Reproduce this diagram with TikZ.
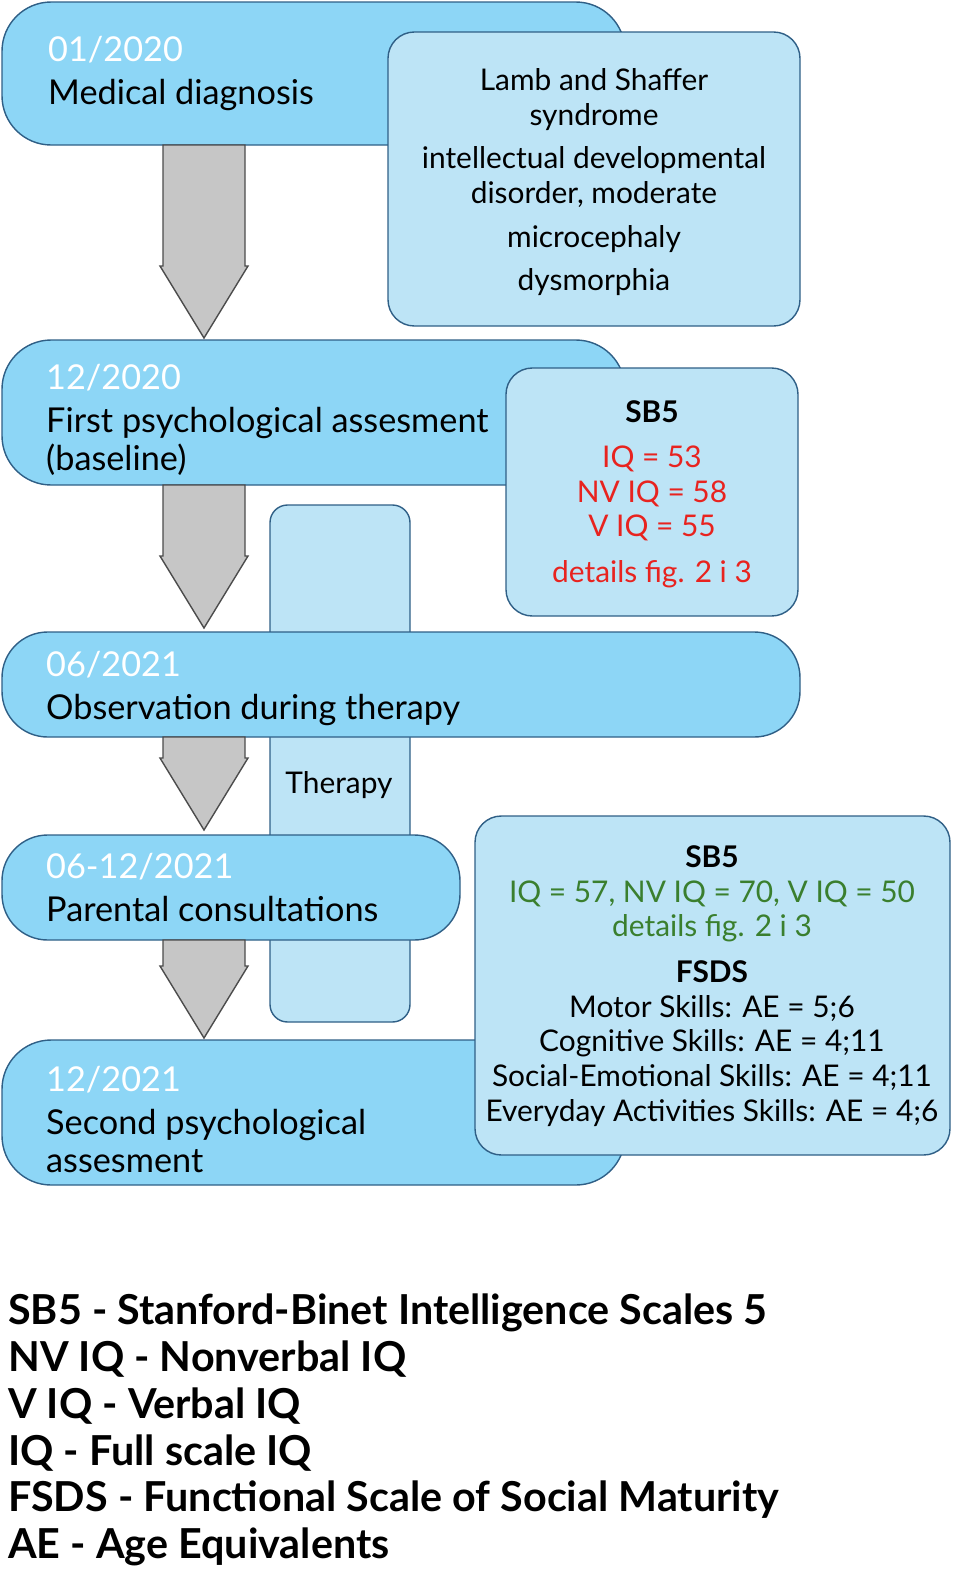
\documentclass[tikz,border=0pt]{standalone}
\usepackage{fontspec}
\setmainfont{Lato}
\usetikzlibrary{positioning}
\definecolor{stageblue}{HTML}{8DD6F6}
\definecolor{detailblue}{HTML}{BDE4F6}
\definecolor{edgeblue}{HTML}{2F5F86}
\definecolor{valred}{HTML}{E8231F}
\definecolor{valgreen}{HTML}{3A7F2E}
\tikzset{
    %stage boxes
    stage/.style={
           draw=edgeblue, fill=stageblue, thick,
           rounded corners=28pt},
    %detail boxes
    detail/.style={
           draw=edgeblue, fill=detailblue, thick,
           rounded corners=15pt},
    date/.style={anchor=north west, text=white, font=\fontsize{19.5}{22}\selectfont},
    title/.style={anchor=north west, align=left, font=\fontsize{19.5}{22}\selectfont},
    info/.style={align=center, font=\fontsize{17}{19.8}\selectfont},
    legend/.style={anchor=north west, align=left, font=\fontsize{23.5}{26.6}\bfseries\selectfont},
}
\newcommand{\blockarrow}[3]{% x, top, tip
    \fill[gray!45, draw=gray!60!black, thick]
      (#1-41,#2) -- (#1+41,#2) -- (#1+41,#3-72) -- (#1+44,#3-72)
      -- (#1,#3) -- (#1-44,#3-72) -- (#1-41,#3-72) -- cycle;}
\begin{document}
\begin{tikzpicture}[x=0.02cm, y=-0.02cm]
 \useasboundingbox (0,0) rectangle (968,1596);
 %therapy bar
    \draw[detail, rounded corners=10pt] (270,505) rectangle (410,1022);
    \node[info] (therapy) at (339,785) {Therapy};
 %stage 1
    \draw[stage] (2,2) rectangle (625,145);
    \node[date] (d1) at (42,30) {01/2020};
    \node[title, below=2pt of d1.south west, anchor=north west] (t1) {Medical diagnosis};
    \draw[detail] (388,32) rectangle (800,326);
    \node[info] (i1) at (594,182) {Lamb and Shaffer\\syndrome\\[5pt]intellectual developmental\\disorder, moderate\\[5pt]microcephaly\\[5pt]dysmorphia};
    \blockarrow{204}{145}{338}
 %stage 2
    \draw[stage] (2,340) rectangle (625,485);
    \node[date] (d2) at (40,358) {12/2020};
    \node[title, below=2pt of d2.south west, anchor=north west] (t2) {First psychological assesment\\(baseline)};
    \draw[detail] (506,368) rectangle (798,616);
    \node[info] (i2) at (652,494) {\textbf{SB5}\\[6pt]\textcolor{valred}{IQ = 53}\\\textcolor{valred}{NV IQ = 58}\\\textcolor{valred}{V IQ = 55}\\[6pt]\textcolor{valred}{details fig. 2 i 3}};
    \blockarrow{204}{485}{628}
 %stage 3
    \draw[stage, rounded corners=26pt] (2,632) rectangle (800,737);
    \node[date] (d3) at (40,645) {06/2021};
    \node[title, below=2pt of d3.south west, anchor=north west] (t3) {Observation during therapy};
    \blockarrow{204}{737}{830}
 %stage 4
    \draw[stage, rounded corners=26pt] (2,835) rectangle (460,940);
    \node[date] (d4) at (40,847) {06-12/2021};
    \node[title, below=2pt of d4.south west, anchor=north west] (t4) {Parental consultations};
    \blockarrow{204}{940}{1038}
 %stage 5
    \draw[stage] (2,1040) rectangle (625,1185);
    \node[date] (d5) at (40,1060) {12/2021};
    \node[title, below=2pt of d5.south west, anchor=north west] (t5) {Second psychological\\assesment};
    \draw[detail] (475,816) rectangle (950,1155);
    \node[info] (i3) at (712,986) {\textbf{SB5}\\\textcolor{valgreen}{IQ = 57, NV IQ = 70, V IQ = 50}\\\textcolor{valgreen}{details fig. 2 i 3}\\[6pt]\textbf{FSDS}\\Motor Skills: AE = 5;6\\Cognitive Skills: AE = 4;11\\Social-Emotional Skills: AE = 4;11\\Everyday Activities Skills: AE = 4;6};
 %legend
    \node[legend] (leg) at (2,1288) {SB5 - Stanford-Binet Intelligence Scales 5\\NV IQ - Nonverbal IQ\\V IQ - Verbal IQ\\IQ - Full scale IQ\\FSDS - Functional Scale of Social Maturity\\AE - Age Equivalents};
\end{tikzpicture}
\end{document}
